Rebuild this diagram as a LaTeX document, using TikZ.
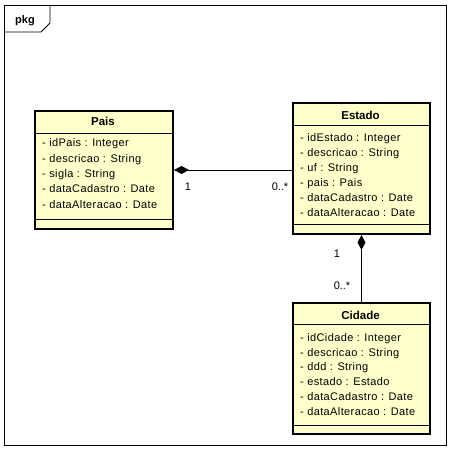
\documentclass[tikz,border=0pt]{standalone}
\usepackage{fontspec}
\setmainfont{Liberation Sans}
\newfontfamily\attrfont[LetterSpace=3.5]{Liberation Sans}
\usetikzlibrary{arrows.meta}
\definecolor{classfill}{RGB}{255,255,204}
\tikzset{
  classbox/.style={draw=black, line width=2pt, fill=classfill, anchor=north west, inner sep=0pt},
  sepline/.style={draw=black, line width=0.9pt},
  attr/.style={anchor=base west, inner sep=0pt, font=\attrfont\fontsize{11}{13}\selectfont},
  ctitle/.style={anchor=base, inner sep=0pt, font=\bfseries\fontsize{11.5}{13}\selectfont},
  mult/.style={anchor=base, inner sep=0pt, font=\fontsize{11}{13}\selectfont},
  conn/.style={draw=black, line width=0.9pt},
  comp/.style={conn, {Diamond[length=15pt,width=8pt]}-}
}
\begin{document}
\begin{tikzpicture}[x=1pt,y=-1pt]
\useasboundingbox (0,0) rectangle (454,454);
% frame
\draw[line width=0.9pt] (4,5) rectangle (446,445);
\draw[line width=0.9pt] (4,32) -- (41,32) -- (50,23) -- (50,5);
\node[anchor=base, inner sep=0pt, font=\bfseries\fontsize{11}{13}\selectfont] (pkg) at (25,24) {pkg};
% Pais
\node[classbox, minimum width=138pt, minimum height=118pt] (pais) at (34,110) {};
\draw[sepline] ([yshift=-23pt]pais.north west) -- ([yshift=-23pt]pais.north east);
\draw[sepline] ([yshift=-109pt]pais.north west) -- ([yshift=-109pt]pais.north east);
\node[ctitle] (paisT) at (103,126) {Pais};
\foreach \t [count=\i] in {- idPais : Integer, - descricao : String, - sigla : String, - dataCadastro : Date, - dataAlteracao : Date}
  \node[attr] (pa\i) at (42,{147+15.3*(\i-1)}) {\t};
% Estado
\node[classbox, minimum width=137pt, minimum height=131pt] (estado) at (292,102) {};
\draw[sepline] ([yshift=-23pt]estado.north west) -- ([yshift=-23pt]estado.north east);
\draw[sepline] ([yshift=-122pt]estado.north west) -- ([yshift=-122pt]estado.north east);
\node[ctitle] (estadoT) at (360.5,120) {Estado};
\foreach \t [count=\i] in {- idEstado : Integer, - descricao : String, - uf : String, - pais : Pais, - dataCadastro : Date, - dataAlteracao : Date}
  \node[attr] (ea\i) at (300,{141.7+14.9*(\i-1)}) {\t};
% Cidade
\node[classbox, minimum width=137pt, minimum height=131pt] (cidade) at (292,302) {};
\draw[sepline] ([yshift=-22pt]cidade.north west) -- ([yshift=-22pt]cidade.north east);
\draw[sepline] ([yshift=-123pt]cidade.north west) -- ([yshift=-123pt]cidade.north east);
\node[ctitle] (cidadeT) at (360.5,319) {Cidade};
\foreach \t [count=\i] in {- idCidade : Integer, - descricao : String, - ddd : String, - estado : Estado, - dataCadastro : Date, - dataAlteracao : Date}
  \node[attr] (ca\i) at (300,{341.3+14.8*(\i-1)}) {\t};
% connectors
\draw[comp] (pais.east) -- (estado.west |- pais.east);
\draw[comp] (estado.south) -- (cidade.north);
% multiplicities
\node[mult] (m1) at (188,190) {1};
\node[mult] (m2) at (280,190) {0..*};
\node[mult] (m3) at (337,257) {1};
\node[mult] (m4) at (342,289) {0..*};
\end{tikzpicture}
\end{document}
